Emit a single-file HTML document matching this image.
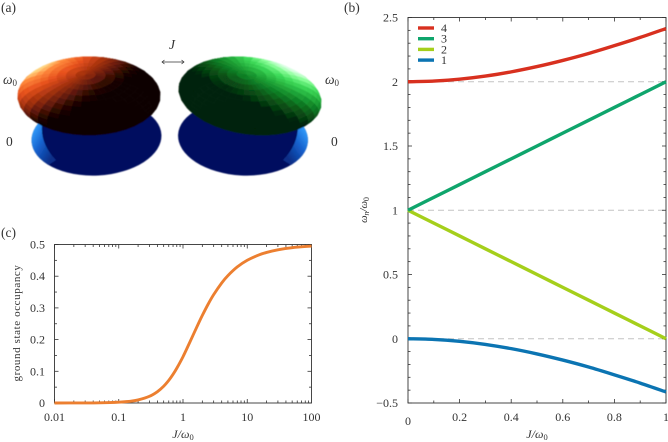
<!DOCTYPE html>
<html>
<head>
<meta charset="utf-8">
<title>Coupled oscillators figure</title>
<style>
html,body{margin:0;padding:0;background:#fff;width:668px;height:442px;overflow:hidden}
svg{display:block}
text{font-family:"Liberation Serif",serif;font-size:12px;fill:#333}
.it{font-style:italic}
</style>
</head>
<body>
<svg id="fig" xmlns="http://www.w3.org/2000/svg" width="668" height="442" viewBox="0 0 668 442">
<defs>
<filter id="soft" x="-5%" y="-5%" width="110%" height="110%"><feGaussianBlur stdDeviation="0.55"/></filter>
<linearGradient id="blueL" gradientUnits="userSpaceOnUse" x1="31" y1="135" x2="56" y2="150">
<stop offset="0" stop-color="#3098f8"/><stop offset=".45" stop-color="#1560cc"/><stop offset="1" stop-color="#0a2f88"/>
</linearGradient>
<linearGradient id="blueR" gradientUnits="userSpaceOnUse" x1="308" y1="135" x2="284" y2="152">
<stop offset="0" stop-color="#3098f8"/><stop offset=".45" stop-color="#1560cc"/><stop offset="1" stop-color="#0a2f88"/>
</linearGradient>
<clipPath id="clipBL"><ellipse cx="96.5" cy="138" rx="65" ry="37.5" transform="rotate(-3 96.5 138)"/></clipPath>
<clipPath id="clipBR"><ellipse cx="243" cy="138" rx="65" ry="37.5" transform="rotate(3 243 138)"/></clipPath>
</defs>

<text x="1" y="12" style="font-size:13.5px">(a)</text>
<text x="344" y="12" style="font-size:13.5px">(b)</text>
<text x="1" y="237" style="font-size:13.5px">(c)</text>

<g id="illustration" filter="url(#soft)">
  <g>
    <ellipse cx="96.5" cy="138" rx="65" ry="37.5" transform="rotate(-3 96.5 138)" fill="#03105e"/>
    <path clip-path="url(#clipBL)" d="M25,110 L42,126 C41,138 46,150 56,160 L38,172 L25,160 Z" fill="url(#blueL)"/>
  </g>
  <g>
    <ellipse cx="243" cy="138" rx="65" ry="37.5" transform="rotate(3 243 138)" fill="#03105e"/>
    <path clip-path="url(#clipBR)" d="M314,110 L298,126 C298,138 293,150 283,160 L302,172 L314,160 Z" fill="url(#blueR)"/>
  </g>
  <g id="domeL"></g>
  <g id="domeR"></g>
</g>

<g>
  <text class="it" x="169" y="49" style="font-size:13.5px">J</text>
  <g stroke="#333" stroke-width="0.7" fill="none">
    <path d="M162,62 H184 M164.5,60 L162,62 L164.5,64 M181.500,60 L184,62 L181.500,64"/>
  </g>
  <text x="3" y="84" style="font-size:13.5px"><tspan class="it">ω</tspan><tspan dy="2" style="font-size:9px">0</tspan></text>
  <text x="6" y="146" style="font-size:13.5px">0</text>
  <text x="325" y="84" style="font-size:13.5px"><tspan class="it">ω</tspan><tspan dy="2" style="font-size:9px">0</tspan></text>
  <text x="331" y="146" style="font-size:13.5px">0</text>
</g>

<g id="plotB"></g>
<g id="plotC"></g>
</svg>

<script>
// ---- Panel (b) data: normal-mode frequencies vs coupling ----
var couplingB = [0, 0.1, 0.2, 0.3, 0.4, 0.5, 0.6, 0.7, 0.8, 0.9, 1];
var mode4 = [2, 2.005, 2.02, 2.044, 2.077, 2.118, 2.166, 2.22, 2.281, 2.345, 2.414];
var mode3 = [1, 1.1, 1.2, 1.3, 1.4, 1.5, 1.6, 1.7, 1.8, 1.9, 2];
var mode2 = [1, 0.9, 0.8, 0.7, 0.6, 0.5, 0.4, 0.3, 0.2, 0.1, 0];
var mode1 = [0, -0.005, -0.02, -0.044, -0.077, -0.118, -0.166, -0.22, -0.281, -0.345, -0.414];
var guideLevels = [2, 1, 0];
var xTicksB = [0, 0.2, 0.4, 0.6, 0.8, 1];
var yTicksB = [-0.5, 0, 0.5, 1, 1.5, 2, 2.5];
var legendLabels = ["4", "3", "2", "1"];

// ---- Panel (c) data: ground state occupancy vs coupling ----
var couplingC = [0.01,0.02,0.05,0.1,0.15,0.2,0.3,0.4,0.5,0.6,0.7,0.8,1,1.25,1.5,1.75,2,2.5,3,4,5,7,10,15,20,30,50,100];
var occupancy = [0,0.0001,0.0006,0.0025,0.0055,0.0097,0.021,0.0358,0.0528,0.0713,0.0904,0.1096,0.146,0.1877,0.2226,0.252,0.2764,0.3143,0.3419,0.3787,0.4019,0.4293,0.4502,0.4667,0.475,0.4833,0.49,0.495];
var xTicksC = [0.01, 0.1, 1, 10, 100];
var yTicksC = [0, 0.1, 0.2, 0.3, 0.4, 0.5];

var NS = "http://www.w3.org/2000/svg";
function mk(parent, tag, attrs) {
  var e = document.createElementNS(NS, tag);
  for (var k in attrs) e.setAttribute(k, attrs[k]);
  parent.appendChild(e);
  return e;
}
function smooth(pts) {
  var d = "M" + pts[0][0].toFixed(2) + "," + pts[0][1].toFixed(2);
  for (var i = 0; i < pts.length - 1; i++) {
    var p0 = pts[Math.max(i - 1, 0)], p1 = pts[i], p2 = pts[i + 1], p3 = pts[Math.min(i + 2, pts.length - 1)];
    d += " C" + (p1[0] + (p2[0] - p0[0]) / 6).toFixed(2) + "," + (p1[1] + (p2[1] - p0[1]) / 6).toFixed(2) +
         " " + (p2[0] - (p3[0] - p1[0]) / 6).toFixed(2) + "," + (p2[1] - (p3[1] - p1[1]) / 6).toFixed(2) +
         " " + p2[0].toFixed(2) + "," + p2[1].toFixed(2);
  }
  return d;
}
function label(parent, x, y, str, anchor, name) {
  var t = mk(parent, "text", {x: x, y: y, "text-anchor": anchor});
  
  
  t.textContent = str;
  return t;
}
function tickLine(parent, x1, y1, x2, y2, w) {
  var l = mk(parent, "line", {x1: x1, y1: y1, x2: x2, y2: y2, stroke: "#333", "stroke-width": w});
  
  
}
function frame(parent, L, R, T, B) {
  var r = mk(parent, "rect", {x: L, y: T, width: R - L, height: B - T, fill: "none", stroke: "#333", "stroke-width": 0.9});
  
  
}
function axisTitle(parent, x, y, name) {
  var t = mk(parent, "text", {x: x, y: y, "text-anchor": "middle"});
  
  
  var a = mk(t, "tspan", {"class": "it"});
  a.textContent = "J/ω";
  var b = mk(t, "tspan", {dy: 2, style: "font-size:8.5px"});
  b.textContent = "0";
}

// ---- Panel (b) ----
(function () {
  var g = document.getElementById("plotB");
  var L = 408, R = 666, T = 17.5, B = 403;
  var xS = function (v) { return L + (v - 0) / (1 - 0) * (R - L); };
  var yS = function (v) { return B - (v + 0.5) / 3 * (B - T); };

  guideLevels.forEach(function (v) {
    var l = mk(g, "line", {x1: L, x2: R, y1: yS(v), y2: yS(v), stroke: "#c4c4c4", "stroke-width": 1, "stroke-dasharray": "6 4"});
    
    
  });

  for (var i = 0; i <= 10; i++) {
    var xv = i / 10, big = i % 2 === 0, len = big ? 4 : 2.5;
    tickLine(g, xS(xv), B, xS(xv), B - len, 0.8);
    tickLine(g, xS(xv), T, xS(xv), T + len, 0.8);
  }
  for (var j = -5; j <= 25; j++) {
    var yv = j / 10, bigY = (j % 5 === 0), lenY = bigY ? 4 : 2.5;
    tickLine(g, L, yS(yv), L + lenY, yS(yv), 0.8);
    tickLine(g, R, yS(yv), R - lenY, yS(yv), 0.8);
  }
  frame(g, L, R, T, B);

  xTicksB.forEach(function (v) {
    label(g, xS(v), v === 0 ? 425 : 421, String(v), "middle", "x-tick-label");
  });
  yTicksB.forEach(function (v) {
    label(g, 398, yS(v) + 4, v < 0 ? "−" + Math.abs(v) : String(v), "end", "y-tick-label");
  });
  axisTitle(g, 537, 438, "x-axis-title");

  var yT = mk(g, "text", {transform: "translate(367,210) rotate(-90)", "text-anchor": "middle"});
  
  
  var s1 = mk(yT, "tspan", {"class": "it", style: "font-size:10.5px"}); s1.textContent = "ω";
  var s2 = mk(yT, "tspan", {"class": "it", dy: 2, style: "font-size:8px"}); s2.textContent = "n";
  var s3 = mk(yT, "tspan", {"class": "it", dy: -2, style: "font-size:10.5px"}); s3.textContent = "/ω";
  var s4 = mk(yT, "tspan", {dy: 2, style: "font-size:8px"}); s4.textContent = "0";

  var series = [[mode1, "#0b74b2", "series-mode-1"], [mode2, "#a5cf1b", "series-mode-2"], [mode3, "#0fa56c", "series-mode-3"], [mode4, "#d8301f", "series-mode-4"]];
  series.forEach(function (s) {
    var pts = couplingB.map(function (c, i) { return [xS(c), yS(s[0][i])]; });
    var p = mk(g, "path", {d: smooth(pts), fill: "none", stroke: s[1], "stroke-width": 3.4, "stroke-linecap": "butt"});
    
    
  });

  var legendColors = ["#d8301f", "#0fa56c", "#a5cf1b", "#0b74b2"];
  legendLabels.forEach(function (lab, i) {
    var y = 28 + i * 10.7;
    var l = mk(g, "line", {x1: 418, x2: 434, y1: y, y2: y, stroke: legendColors[i], "stroke-width": 3.4});
    
    
    label(g, 441, y + 4, lab, "start", "legend-label");
  });
})();

// ---- Panel (c) ----
(function () {
  var g = document.getElementById("plotC");
  var L = 54.5, R = 311.5, T = 244.5, B = 403;
  var xS = function (v) { return L + (Math.log(v) / Math.LN10 + 2) / 4 * (R - L); };
  var yS = function (v) { return B - v / 0.5 * (B - T); };

  for (var d = -2; d <= 1; d++) {
    for (var m = 1; m <= 9; m++) {
      var v = m * Math.pow(10, d), len = m === 1 ? 4 : 2.5;
      tickLine(g, xS(v), B, xS(v), B - len, 0.8);
      tickLine(g, xS(v), T, xS(v), T + len, 0.8);
    }
  }
  for (var j = 0; j <= 10; j++) {
    var yv = j / 20, lenY = j % 2 === 0 ? 4 : 2.5;
    tickLine(g, L, yS(yv), L + lenY, yS(yv), 0.8);
    tickLine(g, R, yS(yv), R - lenY, yS(yv), 0.8);
  }
  frame(g, L, R, T, B);

  xTicksC.forEach(function (v) { label(g, xS(v), 421, String(v), "middle", "x-tick-label"); });
  yTicksC.forEach(function (v) { label(g, 45, yS(v) + 4, String(v), "end", "y-tick-label"); });
  axisTitle(g, 183, 438, "x-axis-title");

  var yT = mk(g, "text", {transform: "translate(20,323) rotate(-90)", "text-anchor": "middle", style: "font-size:11px;letter-spacing:0.6px"});
  
  
  yT.textContent = "ground state occupancy";

  var pts = couplingC.map(function (c, i) { return [xS(c), yS(occupancy[i])]; });
  var p = mk(g, "path", {d: smooth(pts), fill: "none", stroke: "#ec7f30", "stroke-width": 2.9});
  
  
})();

// ---- Panel (a): faceted shaded domes ----
function rampColor(ramp, v) {
  v = Math.max(0, Math.min(1, v));
  for (var i = 0; i < ramp.length - 1; i++) {
    if (v <= ramp[i + 1][0]) {
      var a = ramp[i], b = ramp[i + 1], t = (v - a[0]) / (b[0] - a[0]);
      return "rgb(" + [1, 2, 3].map(function (k) { return Math.round(a[k] + (b[k] - a[k]) * t); }).join(",") + ")";
    }
  }
  return "rgb(255,255,255)";
}
function drawDome(group, o) {
  var rings = 15, segs = 36, facets = [], thetaMax = 2.1;
  function proj(th, ph) {
    var X = o.a * Math.sin(th) * Math.cos(ph);
    var Y = -o.b * Math.cos(th) + o.c * Math.sin(th) * Math.sin(ph);
    return [o.cx + X + o.sx * Y, o.cy + Y + o.sy * X];
  }
  for (var i = 0; i < rings; i++) {
    for (var j = 0; j < segs; j++) {
      var t0 = i / rings * thetaMax, t1 = (i + 1) / rings * thetaMax;
      var p0 = j / segs * 2 * Math.PI, p1 = (j + 1) / segs * 2 * Math.PI;
      var tm = (t0 + t1) / 2, pm = (p0 + p1) / 2;
      var n = [Math.sin(tm) * Math.cos(pm), Math.cos(tm), Math.sin(tm) * Math.sin(pm)];
      var v = n[0] * o.L[0] + n[1] * o.L[1] + n[2] * o.L[2];
      var depth = n[1] * 0.84 + n[2] * 0.54;
      facets.push({pts: [proj(t0, p0), proj(t0, p1), proj(t1, p1), proj(t1, p0)], v: v, depth: depth});
    }
  }
  facets.sort(function (a, b) { return a.depth - b.depth; });
  facets.forEach(function (f) {
    var col = rampColor(o.ramp, f.v);
    var poly = mk(group, "polygon", {
      points: f.pts.map(function (q) { return q[0].toFixed(1) + "," + q[1].toFixed(1); }).join(" "),
      fill: col, stroke: col, "stroke-width": 0.5
    });
    
    
  });
}
var redRamp = [[0,14,2,0],[0.15,40,8,3],[0.35,105,28,10],[0.55,170,52,16],[0.75,232,82,30],[0.92,255,138,60],[1,255,224,140]];
var greenRamp = [[0,1,36,8],[0.1,6,60,16],[0.25,8,82,22],[0.45,16,128,38],[0.62,34,170,58],[0.8,63,220,90],[0.92,140,255,154],[1,232,255,240]];
drawDome(document.getElementById("domeL"), {cx: 89, cy: 96, a: 71, b: 21, c: 33, sx: 0.16, sy: -0.05, L: [-0.64, 0.5, -0.58], ramp: redRamp});
drawDome(document.getElementById("domeR"), {cx: 250, cy: 96, a: 71, b: 21, c: 33, sx: 0.16, sy: 0.05, L: [0.64, 0.5, -0.58], ramp: greenRamp});
</script>
</body>
</html>
